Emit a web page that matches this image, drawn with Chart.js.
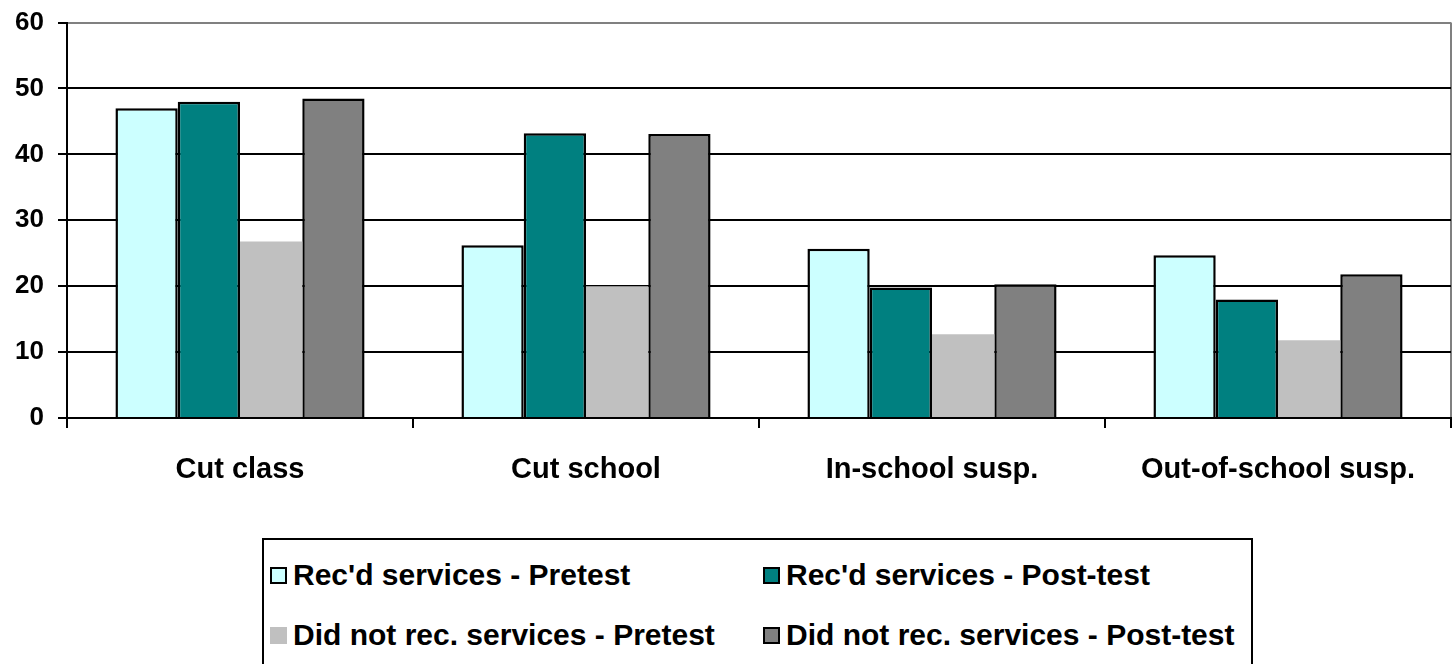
<!DOCTYPE html>
<html>
<head>
<meta charset="utf-8">
<script src="https://cdn.jsdelivr.net/npm/chart.js@4.4.1/dist/chart.umd.min.js"></script>
<style>
  html, body { margin: 0; padding: 0; background: #fff; }
  #wrap { position: relative; width: 1456px; height: 664px; overflow: hidden; }
  #chartBox { position: absolute; left: 0; top: -7px; width: 1456px; height: 527px; }
  #legend {
    position: absolute; left: 262px; top: 538px; width: 991px; height: 140px;
    border: 2px solid #000; box-sizing: border-box;
    font: bold 30px "Liberation Sans", Arial, sans-serif; color: #000;
  }
  .item { position: absolute; white-space: nowrap; line-height: 30px; }
  .item span.box {
    position: absolute; left: 0; top: 7px; width: 17px; height: 17px; box-sizing: border-box;
  }
  .item span.txt { position: absolute; left: 23px; top: 0; }
</style>
</head>
<body>
<div id="wrap">
  <div id="chartBox"><canvas id="chart"></canvas></div>
  <div id="legend"></div>
</div>
<script>
var categories = ['Cut class', 'Cut school', 'In-school susp.', 'Out-of-school susp.'];
var seriesNames = [
	"Rec'd services - Pretest",
	"Rec'd services - Post-test",
	'Did not rec. services - Pretest',
	'Did not rec. services - Post-test'
];
var recPre = [47, 26.2, 25.7, 24.7];
var recPost = [48, 43.2, 19.8, 18];
var notPre = [26.8, 20, 12.7, 11.8];
var notPost = [48.5, 43.1, 20.3, 21.8];
var yTicks = [0, 10, 20, 30, 40, 50, 60];

var fills = ['#CCFFFF', '#008080', '#C0C0C0', '#808080'];
var edges = ['#000', '#000', '#C0C0C0', '#000'];
var values = [recPre, recPost, notPre, notPost];

var datasets = [];
for (var i = 0; i < values.length; i++) {
	datasets.push({
		label: seriesNames[i],
		data: values[i],
		backgroundColor: fills[i],
		borderColor: edges[i],
		borderWidth: edges[i] == '#000' ? 2.5 : 0,
		barPercentage: 1,
		categoryPercentage: 0.72
	});
}

var font = '"Liberation Sans", Arial, sans-serif';

new Chart(document.getElementById('chart'), {
	type: 'bar',
	data: { labels: categories, datasets: datasets },
	options: {
		responsive: true,
		maintainAspectRatio: false,
		animation: false,
		layout: { padding: { top: 1, right: 5, left: 0, bottom: 0 } },
		plugins: { legend: { display: false }, tooltip: { enabled: false } },
		scales: {
			x: {
				grid: {
					offset: true,
					// only the closing line on the right edge shows inside the plot
					color: function (c) { return c.index === undefined ? '#808080' : 'rgba(0,0,0,0)'; },
					tickColor: '#000',
					lineWidth: 2,
					tickLength: 10
				},
				border: { color: '#000', width: 2 },
				ticks: { color: '#000', font: { family: font, size: 29, weight: 'bold' }, padding: 25 },
				afterFit: function (s) { s.height = 102; }
			},
			y: {
				min: 0,
				max: 60,
				afterBuildTicks: function (s) { s.ticks = yTicks.map(function (v) { return { value: v }; }); },
				grid: {
					color: function (c) { return c.tick && c.tick.value == 60 ? '#808080' : '#000'; },
					tickColor: '#000',
					lineWidth: 2,
					tickLength: 9
				},
				border: { color: '#000', width: 2 },
				ticks: { color: '#000', font: { family: font, size: 26, weight: 'bold' }, padding: 14 },
				afterFit: function (s) { s.width = 67; }
			}
		}
	}
});

// legend, two columns
var legend = document.getElementById('legend');
var colX = [6, 499];
var rowY = [20, 80];
for (var j = 0; j < seriesNames.length; j++) {
	var it = document.createElement('div');
	it.className = 'item';
	it.style.left = colX[j % 2] + 'px';
	it.style.top = rowY[Math.floor(j / 2)] + 'px';
	var b = document.createElement('span');
	b.className = 'box';
	b.style.background = fills[j];
	b.style.border = edges[j] == '#000' ? '2px solid #000' : 'none';
	var t = document.createElement('span');
	t.className = 'txt';
	t.textContent = seriesNames[j];
	it.appendChild(b);
	it.appendChild(t);
	legend.appendChild(it);
}
</script>
</body>
</html>
